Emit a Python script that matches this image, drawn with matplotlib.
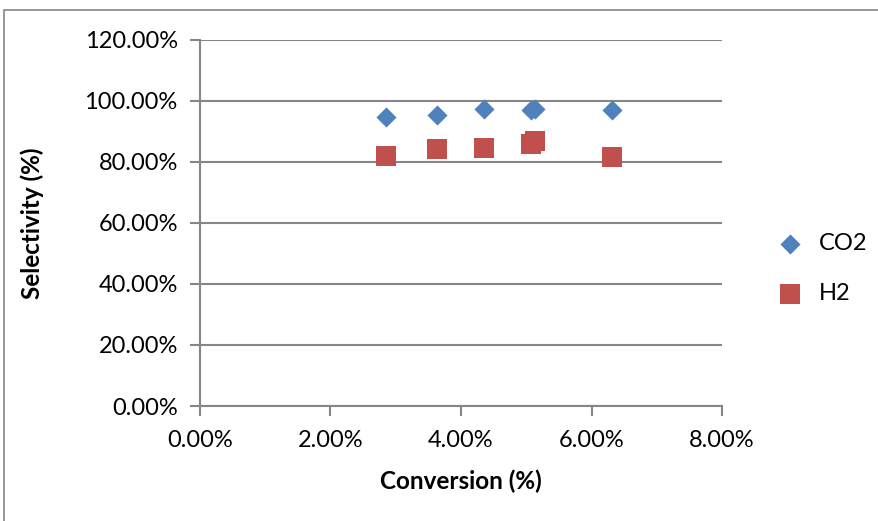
import matplotlib.pyplot as plt
from matplotlib.patches import Rectangle
from matplotlib.ticker import PercentFormatter

# conversion (%) and selectivity (%) for each run
co2_conversion = [2.85, 3.64, 4.35, 5.08, 5.13, 6.32]
co2_selectivity = [94.8, 95.2, 97.2, 97.1, 97.4, 97.0]
h2_conversion = [2.85, 3.64, 4.35, 5.08, 5.14, 6.32]
h2_selectivity = [82.0, 84.1, 84.4, 85.9, 86.8, 81.6]

series_names = ['CO2', 'H2']
x_ticks = [0, 2, 4, 6, 8]
y_ticks = [0, 20, 40, 60, 80, 100, 120]

plt.rcParams['font.family'] = ['Lato', 'DejaVu Sans']
grid_color = '#868686'

fig = plt.figure(figsize=(8.79, 5.21), dpi=100)
ax = fig.add_axes([0.2275, 0.2207, 0.5939, 0.7031])

# outer chart border
fig.patches.append(Rectangle((4 / 879, -0.1), 1.2, (521 - 10) / 521 + 0.1,
                             transform=fig.transFigure, fill=False,
                             edgecolor=grid_color, linewidth=1.2))

ax.scatter(co2_conversion, co2_selectivity, marker='D', s=105, color='#4F81BD',
           label=series_names[0], zorder=3, linewidths=0)
ax.scatter(h2_conversion, h2_selectivity, marker='s', s=200, color='#C0504D',
           label=series_names[1], zorder=3, linewidths=0)

ax.set_xlim(x_ticks[0], x_ticks[-1])
ax.set_ylim(y_ticks[0], y_ticks[-1])
ax.set_xticks(x_ticks)
ax.set_yticks(y_ticks)
ax.xaxis.set_major_formatter(PercentFormatter(decimals=2))
ax.yaxis.set_major_formatter(PercentFormatter(decimals=2))

ax.grid(axis='y', color=grid_color, linewidth=1.5)
ax.set_axisbelow(True)
for side in ['top', 'right']:
    ax.spines[side].set_visible(False)
for side in ['left', 'bottom']:
    ax.spines[side].set_color(grid_color)
    ax.spines[side].set_linewidth(1.5)
ax.tick_params(axis='both', direction='out', length=7, width=1.5,
               color=grid_color, labelsize=17)
ax.tick_params(axis='x', pad=10)
ax.tick_params(axis='y', pad=9)

ax.set_xlabel('Conversion (%)', fontsize=17.5, fontweight='bold', va='center')
ax.set_ylabel('Selectivity (%)', fontsize=17.5, fontweight='bold', va='center')
ax.xaxis.set_label_coords(0.5, -0.205)
ax.yaxis.set_label_coords(-0.322, 0.5)

ax.legend(loc='center left', bbox_to_anchor=(1.09, 0.375), frameon=False,
          fontsize=17, handletextpad=0.7, labelspacing=1.2, borderaxespad=0,
          handlelength=1.0)

fig.savefig('out.png', dpi=100)
